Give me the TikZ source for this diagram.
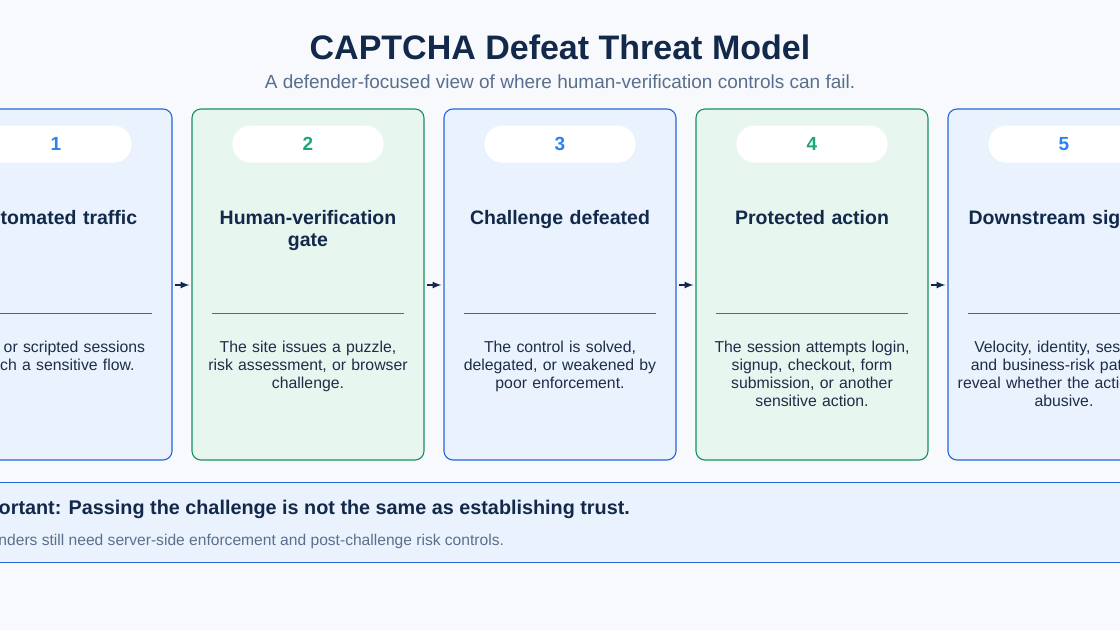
\documentclass[tikz,border=0pt]{standalone}
\usepackage{fontspec}
\setmainfont{Liberation Sans}
\usetikzlibrary{positioning}
\definecolor{bgc}{HTML}{F7F9FC}
\definecolor{navy}{HTML}{13294B}
\definecolor{slate}{HTML}{5A6F8E}
\definecolor{bluefill}{HTML}{EAF3FD}
\definecolor{blueline}{HTML}{2566D8}
\definecolor{bluenum}{HTML}{2F80ED}
\definecolor{greenfill}{HTML}{E8F6F0}
\definecolor{greenline}{HTML}{16925F}
\definecolor{greennum}{HTML}{1FA67A}
\definecolor{bodytext}{HTML}{1E2D48}
\tikzset{
  card/.style={draw=#1line, fill=#1fill, line width=1.1pt, rounded corners=9pt,
    minimum width=232pt, minimum height=351pt, inner sep=0pt},
  pill/.style={fill=white, rounded corners=18pt, minimum width=151pt, minimum height=37pt,
    font=\fontsize{19}{21}\selectfont\bfseries},
  ctitle/.style={text=navy, align=center, text width=225pt,
    font=\fontsize{19.5}{22}\selectfont\bfseries, anchor=north},
  cbody/.style={text=bodytext, align=center, text width=225pt,
    font=\fontsize{15.8}{18}\selectfont, anchor=north},
  flow/.style={-latex, line width=2pt, navy, shorten >=2pt, shorten <=2pt}
}
\begin{document}
\begin{tikzpicture}[x=1pt,y=-1pt]
  \useasboundingbox (0,0) rectangle (1120,630);
  \clip (0,0) rectangle (1120,630);
  \fill[bgc] (0,0) rectangle (1120,630);

  %Titulo
  \node[text=navy, font=\fontsize{34}{38}\selectfont\bfseries] (title) at (560,47) {CAPTCHA Defeat Threat Model};
  \node[text=slate, font=\fontsize{19}{22}\selectfont] (subtitle) at (560,82)
    {A defender-focused view of where human-verification controls can fail.};

  %Tarjetas
  \foreach \i/\col/\head/\txt in {
    1/blue/Automated traffic/{Bots or scripted sessions\\reach a sensitive flow.},
    2/green/{Human-verification\\gate}/{The site issues a puzzle,\\risk assessment, or browser\\challenge.},
    3/blue/Challenge defeated/{The control is solved,\\delegated, or weakened by\\poor enforcement.},
    4/green/Protected action/{The session attempts login,\\signup, checkout, form\\submission, or another\\sensitive action.},
    5/blue/Downstream signals/{Velocity, identity, session,\\and business-risk patterns\\reveal whether the action was\\abusive.}}{
    \node[card=\col] (card\i) at ({56+252*(\i-1)},284.5) {};
    \node[pill, text=\col num, below=17pt of card\i.north] (num\i) {\i};
    \node[ctitle] (head\i) at ({56+252*(\i-1)},207) {\head};
    \draw[\col line, line width=1pt] ({-40+252*(\i-1)},313) -- ({152+252*(\i-1)},313);
    \node[cbody] (body\i) at ({56+252*(\i-1)},338) {\txt};
  }

  %Flechas
  \foreach \a/\b in {1/2,2/3,3/4,4/5}
    \draw[flow] (card\a.east |- 0,285) -- (card\b.west |- 0,285);

  %Nota
  \draw[blueline, line width=1pt, fill=bluefill] (-10,482) rectangle (1130,562);
  \node[anchor=west, text=navy, font=\fontsize{19.8}{22}\selectfont\bfseries] (note) at (-40,509)
    {Important: Passing the challenge is not the same as establishing trust.};
  \node[anchor=west, text=slate, font=\fontsize{15.6}{18}\selectfont] (notesub) at (-38,541)
    {Defenders still need server-side enforcement and post-challenge risk controls.};
\end{tikzpicture}
\end{document}
